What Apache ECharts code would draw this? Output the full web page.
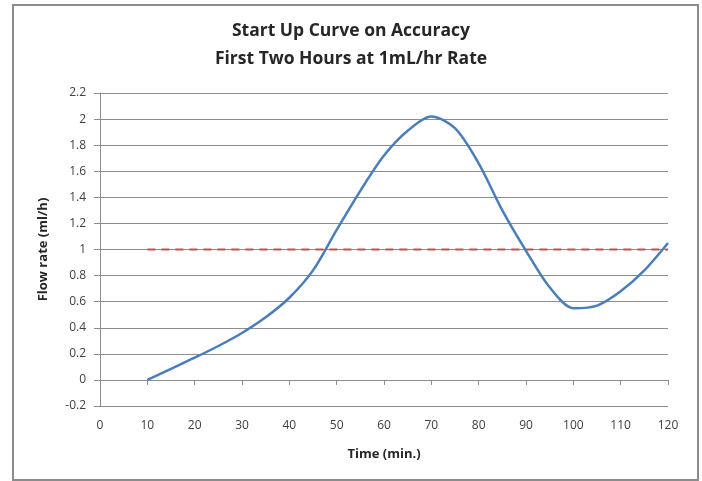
<!DOCTYPE html>
<html>
<head>
<meta charset="utf-8">
<script src="https://cdn.jsdelivr.net/npm/echarts@6/dist/echarts.min.js"></script>
<style>html,body{margin:0;padding:0;background:#fff}#c{width:702px;height:481px}</style>
</head>
<body>
<div id="c"></div>
<script>
var times = [10, 15, 20, 25, 30, 35, 40, 45, 50, 55, 60, 65, 70, 75, 80, 85, 90, 95, 100, 105, 110, 115, 120];
var flowRate = [0, 0.085, 0.17, 0.26, 0.36, 0.48, 0.63, 0.84, 1.15, 1.45, 1.72, 1.91, 2.02, 1.93, 1.66, 1.30, 0.99, 0.71, 0.55, 0.57, 0.68, 0.84, 1.05];
var targetTimes = [10, 120];
var targetRate = [1, 1];
var titleLines = ['Start Up Curve on Accuracy', 'First Two Hours at 1mL/hr Rate'];
var xName = 'Time (min.)';
var yName = 'Flow rate (ml/h)';

var font = 'Open Sans';
var chart = echarts.init(document.getElementById('c'), null, {renderer: 'canvas'});
chart.setOption({
  animation: false,
  backgroundColor: '#fff',
  title: {
    text: titleLines.join('\n'),
    left: 'center',
    top: 12,
    textStyle: {fontFamily: font, fontSize: 17.5, fontWeight: 'bold', color: '#262626', lineHeight: 28}
  },
  graphic: [{
    type: 'rect',
    shape: {x: 13, y: 5, width: 685, height: 475},
    style: {fill: 'none', stroke: '#8c8c8c', lineWidth: 2},
    silent: true
  }],
  grid: {left: 100, right: 34, top: 93, bottom: 75},
  xAxis: [{
    type: 'value', min: 0, max: 120, interval: 10,
    axisLine: {onZero: true, lineStyle: {color: '#8c8c8c', width: 1}},
    axisTick: {show: true, inside: false, length: 5, lineStyle: {color: '#8c8c8c'}},
    axisLabel: {show: false},
    splitLine: {show: false}
  }, {
    type: 'value', min: 0, max: 120, interval: 10, position: 'bottom',
    axisLine: {show: false, onZero: false},
    axisTick: {show: false},
    splitLine: {show: false},
    axisLabel: {margin: 14, fontFamily: font, fontSize: 12, color: '#404040'},
    name: xName, nameLocation: 'middle', nameGap: 42,
    nameTextStyle: {fontFamily: font, fontSize: 13, fontWeight: 'bold', color: '#262626'}
  }],
  yAxis: {
    type: 'value', min: -0.2, max: 2.2, interval: 0.2,
    axisLine: {show: true, lineStyle: {color: '#8c8c8c', width: 1}},
    axisTick: {show: true, length: 6, lineStyle: {color: '#8c8c8c'}},
    axisLabel: {margin: 14, fontFamily: font, fontSize: 12, color: '#404040',
      formatter: function (v) { return String(Math.round(v * 10) / 10); }},
    splitLine: {show: true, lineStyle: {color: '#8c8c8c', width: 1}},
    name: yName, nameLocation: 'middle', nameGap: 50, nameRotate: 90,
    nameTextStyle: {fontFamily: font, fontSize: 13, fontWeight: 'bold', color: '#262626'}
  },
  series: [{
    type: 'line',
    data: targetTimes.map(function (t, i) { return [t, targetRate[i]]; }),
    symbol: 'none',
    lineStyle: {color: '#c0504d', width: 2, type: [8, 6]},
    z: 2
  }, {
    type: 'line',
    data: times.map(function (t, i) { return [t, flowRate[i]]; }),
    symbol: 'none',
    smooth: 0.3,
    lineStyle: {color: '#4a7ebb', width: 2.5},
    z: 3
  }]
});
</script>
</body>
</html>
